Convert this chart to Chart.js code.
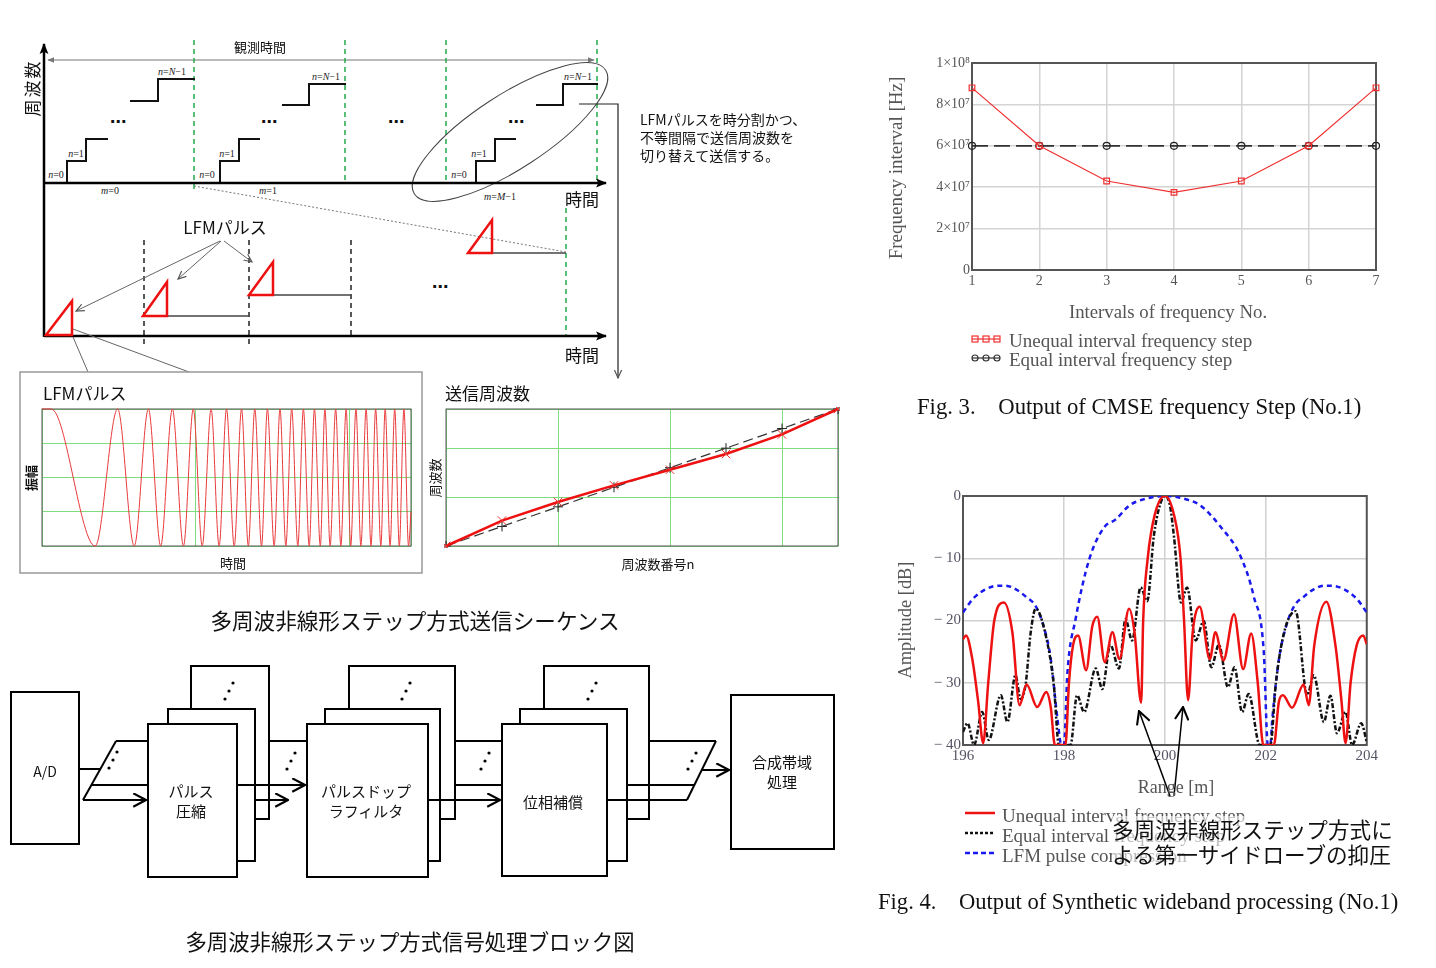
<!DOCTYPE html>
<html lang="ja">
<head>
<meta charset="utf-8">
<title>多周波非線形ステップ方式</title>
<script src="https://cdn.jsdelivr.net/npm/chart.js"></script>
<style>
  html, body { margin: 0; padding: 0; background: #fff; }
  #page { position: relative; width: 1436px; height: 968px; overflow: hidden;
          font-family: "Noto Sans CJK JP", sans-serif; color: #111; }
  .t { position: absolute; white-space: pre; line-height: 1; }
  .c { transform: translate(-50%, -50%); }
  .l { transform: translateY(-50%); }
  .v { transform: translate(-50%, -50%) rotate(-90deg); }
  .serif { font-family: "Liberation Serif", "DejaVu Serif", serif; color: #555; }
  canvas { position: absolute; }
  svg { position: absolute; left: 0; top: 0; }
</style>
</head>
<body>
<div id="page">

<!-- 図の線画（送信シーケンスとブロック図） -->
<svg width="1436" height="968" viewBox="0 0 1436 968">
  <defs>
    <marker id="axisHead" viewBox="0 0 10 10" refX="9" refY="5" markerWidth="11" markerHeight="11" orient="auto" markerUnits="userSpaceOnUse">
      <path d="M0,1 L10,5 L0,9 L2,5 z" fill="#000"/>
    </marker>
    <marker id="grayHead" viewBox="0 0 10 10" refX="9" refY="5" markerWidth="7" markerHeight="7" orient="auto-start-reverse" markerUnits="userSpaceOnUse">
      <path d="M0,1 L10,5 L0,9 z" fill="#777"/>
    </marker>
    <marker id="thinHead" viewBox="0 0 10 10" refX="9" refY="5" markerWidth="9" markerHeight="9" orient="auto" markerUnits="userSpaceOnUse">
      <path d="M0,1 L9,5 L0,9" fill="none" stroke="#555" stroke-width="1.3"/>
    </marker>
    <marker id="openHead" viewBox="0 0 10 10" refX="9.5" refY="5" markerWidth="15" markerHeight="15" orient="auto" markerUnits="userSpaceOnUse">
      <path d="M1,0.5 L9.5,5 L1,9.5" fill="none" stroke="#000" stroke-width="1.4"/>
    </marker>
  </defs>

  <!-- 観測時間 -->
  <line x1="48" y1="60" x2="594" y2="60" stroke="#777" stroke-width="1" marker-start="url(#grayHead)" marker-end="url(#grayHead)"/>

  <!-- 緑の区切り線 -->
  <g stroke="#22aa4a" stroke-width="1.5" stroke-dasharray="5,4">
    <line x1="194" y1="40" x2="194" y2="190"/>
    <line x1="345" y1="40" x2="345" y2="183"/>
    <line x1="446" y1="40" x2="446" y2="183"/>
    <line x1="597" y1="40" x2="597" y2="183"/>
    <line x1="566" y1="208" x2="566" y2="336"/>
  </g>

  <!-- 周波数ステップ -->
  <g stroke="#111" stroke-width="2" fill="none">
    <polyline points="67,183 67,161 86,161 86,139 108,139"/>
    <polyline points="130,101 158,101 158,79 195,79"/>
    <polyline points="220,183 220,161 239,161 239,139 260,139"/>
    <polyline points="282,105 309,105 309,84 346,84"/>
    <polyline points="476,183 476,161 495,161 495,139 516,139"/>
    <polyline points="536,105 563,105 563,84 598,84"/>
  </g>
  <polyline points="579,104 618,104 618,378" fill="none" stroke="#222" stroke-width="1.2" marker-end="url(#thinHead)"/>
  <ellipse cx="510" cy="132" rx="114" ry="37" transform="rotate(-33 510 132)" fill="none" stroke="#444" stroke-width="1"/>
  <line x1="194" y1="186" x2="566" y2="252" stroke="#777" stroke-width="1" stroke-dasharray="2,2"/>

  <!-- 軸 -->
  <g stroke="#000" stroke-width="2.5">
    <line x1="44" y1="337" x2="44" y2="44" marker-end="url(#axisHead)"/>
    <line x1="44" y1="183" x2="606" y2="183" marker-end="url(#axisHead)"/>
    <line x1="44" y1="336" x2="606" y2="336" marker-end="url(#axisHead)"/>
  </g>

  <g font-family="Liberation Serif, serif" font-size="10" fill="#222" text-anchor="middle" dominant-baseline="central">
    <text x="56" y="174"><tspan font-style="italic">n</tspan>=0</text>
    <text x="76" y="153"><tspan font-style="italic">n</tspan>=1</text>
    <text x="172" y="71"><tspan font-style="italic">n</tspan>=<tspan font-style="italic">N</tspan>−1</text>
    <text x="207" y="174"><tspan font-style="italic">n</tspan>=0</text>
    <text x="227" y="153"><tspan font-style="italic">n</tspan>=1</text>
    <text x="326" y="76"><tspan font-style="italic">n</tspan>=<tspan font-style="italic">N</tspan>−1</text>
    <text x="459" y="174"><tspan font-style="italic">n</tspan>=0</text>
    <text x="479" y="153"><tspan font-style="italic">n</tspan>=1</text>
    <text x="578" y="76"><tspan font-style="italic">n</tspan>=<tspan font-style="italic">N</tspan>−1</text>
    <text x="110" y="190"><tspan font-style="italic">m</tspan>=0</text>
    <text x="268" y="190"><tspan font-style="italic">m</tspan>=1</text>
    <text x="500" y="196"><tspan font-style="italic">m</tspan>=<tspan font-style="italic">M</tspan>−1</text>
  </g>
  <g font-family="DejaVu Sans, sans-serif" font-size="16" font-weight="bold" fill="#111" text-anchor="middle">
    <text x="118" y="127">⋯</text>
    <text x="269" y="127">⋯</text>
    <text x="396" y="127">⋯</text>
    <text x="516" y="127">⋯</text>
    <text x="440" y="292">⋯</text>
  </g>

  <!-- LFM パルス列 -->
  <g stroke="#222" stroke-width="1.5" stroke-dasharray="5,4">
    <line x1="144" y1="240" x2="144" y2="346"/>
    <line x1="249" y1="240" x2="249" y2="346"/>
    <line x1="351" y1="240" x2="351" y2="336"/>
  </g>
  <g stroke="#444" stroke-width="1.5">
    <line x1="167" y1="316" x2="249" y2="316"/>
    <line x1="273" y1="295" x2="351" y2="295"/>
    <line x1="492" y1="253" x2="566" y2="253"/>
  </g>
  <g stroke="#ee1111" stroke-width="2.5" fill="none" stroke-linejoin="miter">
    <polygon points="46,335 72,335 72,301"/>
    <polygon points="143,316 167,316 167,282"/>
    <polygon points="249,295 273,295 273,262"/>
    <polygon points="468,253 492,253 492,220"/>
  </g>
  <g stroke="#666" stroke-width="1" fill="none">
    <line x1="220" y1="241" x2="76" y2="311" marker-end="url(#thinHead)"/>
    <line x1="221" y1="241" x2="178" y2="279" marker-end="url(#thinHead)"/>
    <line x1="224" y1="241" x2="252" y2="262" marker-end="url(#thinHead)"/>
    <line x1="73" y1="337" x2="88" y2="372"/>
    <line x1="73" y1="329" x2="189" y2="372"/>
  </g>
  <rect x="20" y="372" width="402" height="201" fill="none" stroke="#999" stroke-width="1.5"/>

  <!-- 信号処理ブロック図 -->
  <g stroke="#000" stroke-width="2" fill="#fff">
    <rect x="11" y="692" width="68" height="152"/>
    <rect x="191" y="666" width="78" height="153"/>
    <rect x="168" y="709" width="87" height="152"/>
    <rect x="148" y="724" width="89" height="153"/>
    <rect x="349" y="666" width="106" height="153"/>
    <rect x="325" y="709" width="115" height="152"/>
    <rect x="307" y="724" width="121" height="153"/>
    <rect x="544" y="666" width="105" height="153"/>
    <rect x="520" y="709" width="107" height="152"/>
    <rect x="502" y="724" width="105" height="152"/>
    <rect x="731" y="695" width="103" height="154"/>
  </g>
  <g stroke="#000" stroke-width="2" fill="none">
    <line x1="79" y1="769" x2="101" y2="769"/>
    <line x1="116" y1="741" x2="83" y2="800"/>
    <line x1="116" y1="741" x2="148" y2="741"/>
    <line x1="92" y1="785" x2="148" y2="785"/>
    <line x1="83" y1="800" x2="146" y2="800" marker-end="url(#openHead)"/>
    <line x1="269" y1="741" x2="307" y2="741"/>
    <line x1="237" y1="785" x2="305" y2="785" marker-end="url(#openHead)"/>
    <line x1="255" y1="800" x2="288" y2="800" marker-end="url(#openHead)"/>
    <line x1="455" y1="741" x2="502" y2="741"/>
    <line x1="455" y1="785" x2="502" y2="785"/>
    <line x1="428" y1="800" x2="500" y2="800" marker-end="url(#openHead)"/>
    <line x1="649" y1="741" x2="716" y2="741"/>
    <line x1="627" y1="785" x2="694" y2="785"/>
    <line x1="607" y1="800" x2="687" y2="800"/>
    <line x1="716" y1="741" x2="687" y2="800"/>
    <line x1="702" y1="770" x2="729" y2="770" marker-end="url(#openHead)"/>
  </g>
  <g fill="#000">
    <circle cx="109" cy="768" r="1.6"/><circle cx="113" cy="760" r="1.6"/><circle cx="117" cy="752" r="1.6"/>
    <circle cx="287" cy="769" r="1.6"/><circle cx="291" cy="761" r="1.6"/><circle cx="295" cy="753" r="1.6"/>
    <circle cx="481" cy="769" r="1.6"/><circle cx="485" cy="761" r="1.6"/><circle cx="489" cy="753" r="1.6"/>
    <circle cx="688" cy="769" r="1.6"/><circle cx="692" cy="761" r="1.6"/><circle cx="696" cy="753" r="1.6"/>
    <circle cx="225" cy="699" r="1.6"/><circle cx="229" cy="691" r="1.6"/><circle cx="233" cy="683" r="1.6"/>
    <circle cx="402" cy="699" r="1.6"/><circle cx="406" cy="691" r="1.6"/><circle cx="410" cy="683" r="1.6"/>
    <circle cx="588" cy="699" r="1.6"/><circle cx="592" cy="691" r="1.6"/><circle cx="596" cy="683" r="1.6"/>
  </g>

  <!-- 凡例の記号 -->
  <g stroke="#f03030" stroke-width="1.2" fill="none">
    <line x1="972" y1="339" x2="1000" y2="339"/>
    <rect x="972" y="336" width="6" height="6"/><rect x="983" y="336" width="6" height="6"/><rect x="994" y="336" width="6" height="6"/>
  </g>
  <g stroke="#333" stroke-width="1.2" fill="none">
    <line x1="972" y1="358" x2="1000" y2="358"/>
    <circle cx="975" cy="358" r="3"/><circle cx="986" cy="358" r="3"/><circle cx="997" cy="358" r="3"/>
  </g>
  <line x1="965" y1="813" x2="995" y2="813" stroke="#ee1111" stroke-width="2.5"/>
  <line x1="965" y1="833" x2="995" y2="833" stroke="#111" stroke-width="2.5" stroke-dasharray="3,2"/>
  <line x1="965" y1="853" x2="995" y2="853" stroke="#1a1aee" stroke-width="2.5" stroke-dasharray="5,3"/>
</svg>

<!-- Chart.js のキャンバス -->
<canvas id="fig3" width="510" height="242" style="left:880px; top:50px;"></canvas>
<canvas id="fig4" width="490" height="280" style="left:890px; top:485px;"></canvas>
<canvas id="lfm" width="373" height="141" style="left:40px; top:407px;"></canvas>
<canvas id="freq" width="396" height="141" style="left:444px; top:407px;"></canvas>

<!-- Fig.4 の矢印 -->
<svg width="1436" height="968" viewBox="0 0 1436 968" style="pointer-events:none">
  <g stroke="#000" stroke-width="1.5" fill="none">
    <line x1="1170" y1="796" x2="1139" y2="711" marker-end="url(#openHead)"/>
    <line x1="1174" y1="796" x2="1183" y2="707" marker-end="url(#openHead)"/>
  </g>
</svg>

<!-- テキスト -->
<div class="t v" style="left:31px; top:88px; font-size:17px; letter-spacing:2px;">周波数</div>
<div class="t c" style="left:260px; top:46px; font-size:13px;">観測時間</div>
<div class="t c" style="left:582px; top:198px; font-size:17px;">時間</div>
<div class="t c" style="left:582px; top:354px; font-size:17px;">時間</div>
<div class="t c" style="left:225px; top:226px; font-size:17px;">LFMパルス</div>
<div class="t l" style="left:640px; top:119px; font-size:14px;">LFMパルスを時分割かつ、</div>
<div class="t l" style="left:640px; top:137px; font-size:14px;">不等間隔で送信周波数を</div>
<div class="t l" style="left:640px; top:155px; font-size:14px;">切り替えて送信する。</div>

<div class="t l" style="left:43px; top:392px; font-size:17px;">LFMパルス</div>
<div class="t v" style="left:30px; top:478px; font-size:13px; font-weight:bold;">振幅</div>
<div class="t c" style="left:233px; top:562px; font-size:13px;">時間</div>
<div class="t l" style="left:445px; top:392px; font-size:17px;">送信周波数</div>
<div class="t v" style="left:434px; top:478px; font-size:13px;">周波数</div>
<div class="t c" style="left:658px; top:563px; font-size:13px;">周波数番号n</div>
<div class="t c" style="left:415px; top:620px; font-size:21.6px;">多周波非線形ステップ方式送信シーケンス</div>

<div class="t c" style="left:45px; top:771px; font-size:14px;">A/D</div>
<div class="t c" style="left:191px; top:801px; font-size:15px; line-height:20px; text-align:center;">パルス
圧縮</div>
<div class="t c" style="left:366px; top:801px; font-size:15px; line-height:20px; text-align:center;">パルスドップ
ラフィルタ</div>
<div class="t c" style="left:553px; top:801px; font-size:15px;">位相補償</div>
<div class="t c" style="left:782px; top:772px; font-size:15px; line-height:20px; text-align:center;">合成帯域
処理</div>
<div class="t c" style="left:410px; top:941px; font-size:21.4px;">多周波非線形ステップ方式信号処理ブロック図</div>

<div class="t v serif" style="left:895px; top:168px; font-size:19px;">Frequency interval [Hz]</div>
<div class="t c serif" style="left:1168px; top:312px; font-size:18.8px;">Intervals of frequency No.</div>
<div class="t l serif" style="left:1009px; top:340px; font-size:19px;">Unequal interval frequency step</div>
<div class="t l serif" style="left:1009px; top:359px; font-size:19px;">Equal interval frequency step</div>
<div class="t l serif" style="left:917px; top:407px; font-size:22.7px; color:#111;">Fig. 3.    Output of CMSE frequency Step (No.1)</div>

<div class="t v serif" style="left:905px; top:620px; font-size:18.4px;">Amplitude [dB]</div>
<div class="t c serif" style="left:1176px; top:787px; font-size:18px;">Range [m]</div>
<div class="t l serif" style="left:1002px; top:815px; font-size:19px;">Unequal interval frequency step</div>
<div class="t l serif" style="left:1002px; top:835px; font-size:19px;">Equal interval frequency step</div>
<div class="t l serif" style="left:1002px; top:855px; font-size:19px;">LFM pulse compression</div>
<div class="t" style="left:1112px; top:816px; font-size:21.6px; line-height:25px; background:rgba(255,255,255,0.6);">多周波非線形ステップ方式に
よる第一サイドローブの抑圧</div>
<div class="t l serif" style="left:878px; top:902px; font-size:22.6px; color:#111;">Fig. 4.    Output of Synthetic wideband processing (No.1)</div>

</div>

<script>
// ---- Fig.3: 周波数間隔 ----
const intervalNo = [1, 2, 3, 4, 5, 6, 7];
const unequalInterval = [8.8e7, 6.0e7, 4.3e7, 3.75e7, 4.3e7, 6.0e7, 8.8e7];
const equalInterval = [6.0e7, 6.0e7, 6.0e7, 6.0e7, 6.0e7, 6.0e7, 6.0e7];
const fig3YLabels = ['0', '2×10⁷', '4×10⁷', '6×10⁷', '8×10⁷', '1×10⁸'];

// ---- Fig.4: 合成帯域処理の出力 ----
const unequalRange = [196.00, 196.06, 196.18, 196.30, 196.40, 196.50, 196.62, 196.81, 196.98, 197.12, 197.26, 197.47, 197.65, 197.74, 197.82,
  198.03, 198.10, 198.18, 198.28, 198.44, 198.56, 198.66, 198.81, 198.96, 199.10, 199.29, 199.40, 199.53, 199.57, 199.66, 199.80, 200.00,
  200.18, 200.31, 200.38, 200.46, 200.55, 200.69, 200.89, 201.00, 201.16, 201.37, 201.55, 201.71, 201.84, 201.95, 202.16, 202.26, 202.34,
  202.52, 202.75, 202.85, 202.96, 203.20, 203.38, 203.50, 203.58, 203.68, 203.80, 203.93, 204.00];
const unequalDb = [-23.0, -22.4, -26, -33, -39.7, -30, -20, -17.1, -22, -33.6, -30.3, -33.9, -31.5, -34, -40,
  -40, -30, -24, -22.4, -28.0, -21, -19.4, -26.7, -21.9, -26.2, -18.1, -22, -33.2, -20, -10, -3, 0,
  -3, -10, -20, -32.8, -22, -17.8, -26.2, -21.9, -26.4, -19.0, -27.8, -22.1, -30, -40, -40, -33, -32.0,
  -34.0, -30.3, -33.6, -24, -17.0, -24, -33, -39.7, -30, -24, -22.4, -23.8];

const equalRange = [196.00, 196.09, 196.22, 196.38, 196.51, 196.75, 196.88, 197.04, 197.14, 197.24, 197.34, 197.44, 197.64, 197.80, 197.90,
  198.13, 198.26, 198.40, 198.63, 198.76, 198.92, 199.09, 199.22, 199.35, 199.52, 199.65, 199.78, 199.90, 200.00,
  200.10, 200.18, 200.32, 200.44, 200.61, 200.77, 200.92, 201.07, 201.25, 201.38, 201.53, 201.66, 201.88, 202.09, 202.20, 202.36,
  202.59, 202.82, 202.95, 203.15, 203.28, 203.41, 203.58, 203.71, 203.89, 204.00];
const equalDb = [-37.9, -36.5, -40, -34.7, -39.2, -32.0, -36.3, -28.8, -32.6, -30.3, -22, -18.1, -22.4, -30.4, -40,
  -40, -32.0, -34.7, -27.7, -31.0, -23.9, -27.7, -19.8, -23.2, -14.7, -16.9, -6.5, -1.5, 0,
  -1.5, -6.5, -17.1, -14.7, -23.2, -20.1, -27.5, -23.9, -30.7, -27.5, -34.7, -31.8, -40, -40, -30, -22,
  -18.5, -32.0, -28.8, -36.3, -32.1, -38.1, -34.7, -40, -36.5, -39.5];

const lfmRange = [196.00, 196.20, 196.45, 196.70, 196.84, 197.05, 197.25, 197.44, 197.60, 197.74, 197.87, 197.95, 198.00,
  198.07, 198.23, 198.50, 198.80, 199.02, 199.30, 199.55, 200.00, 200.45, 200.70, 201.10, 201.50, 201.76, 201.96, 202.04, 202.09,
  202.13, 202.26, 202.40, 202.56, 202.75, 202.95, 203.16, 203.30, 203.55, 203.80, 204.00];
const lfmDb = [-18.7, -16.5, -15, -14.4, -14.4, -15, -16.2, -17.7, -21, -26.2, -35.7, -40, -40,
  -28.3, -19.8, -10.2, -5.0, -3.8, -1.5, -0.6, 0, -0.6, -1.5, -4.9, -9.7, -16.1, -25.1, -40, -40,
  -35.7, -26.2, -21, -17.7, -16.2, -15, -14.4, -14.4, -15, -16.5, -18.7];
const fig4YLabels = ['− 40', '− 30', '− 20', '− 10', '0'];

// ---- LFMパルス波形（山・谷の時刻を読み取り） ----
const lfmTime = [0, 3, 17.3, 24.6, 30.0, 34.6, 38.6, 42.4, 46.0, 49.2, 52.1, 55.0, 57.6, 60.0, 62.5, 64.9, 67.1, 69.2, 71.4,
  73.3, 75.5, 77.4, 79.3, 81.2, 83.2, 85.0, 86.9, 88.6, 90.5, 92.0, 93.7, 95.5, 97.2, 98.9, 100.4, 102.1, 103.7, 105.4,
  107.0, 108.5, 110.2, 111.6, 113.2, 114.7, 116.2, 117.7, 119.2, 120];
const lfmAmp = [1, 1, -1, 1, -1, 1, -1, 1, -1, 1, -1, 1, -1, 1, -1, 1, -1, 1, -1,
  1, -1, 1, -1, 1, -1, 1, -1, 1, -1, 1, -1, 1, -1, 1, -1, 1, -1, 1,
  -1, 1, -1, 1, -1, 1, -1, 1, -1, -0.5];

// ---- 送信周波数 ----
const freqNo = [0, 1, 2, 3, 4, 5, 6, 7];
const freqUnequal = [0, 0.26, 0.45, 0.62, 0.78, 0.94, 1.14, 1.4];
const freqEqual = [0, 0.2, 0.4, 0.6, 0.8, 1.0, 1.2, 1.4];

// x と y の配列から点を作る
function pts(xs, ys) {
  return xs.map((x, i) => ({ x: x, y: ys[i] }));
}

// プロット領域の枠線
const framePlugin = {
  id: 'frame',
  beforeDatasetsDraw(chart, args, opts) {
    const a = chart.chartArea;
    const ctx = chart.ctx;
    ctx.save();
    ctx.strokeStyle = opts.color || '#555';
    ctx.lineWidth = opts.width || 1;
    ctx.strokeRect(a.left, a.top, a.right - a.left, a.bottom - a.top);
    ctx.restore();
  }
};

const serif = 'Liberation Serif';
const noPlugins = { legend: { display: false }, tooltip: { enabled: false } };

// Fig.3
new Chart(document.getElementById('fig3'), {
  type: 'line',
  data: {
    datasets: [
      {
        label: 'Unequal interval frequency step',
        data: pts(intervalNo, unequalInterval),
        borderColor: '#f03030', borderWidth: 1.2,
        pointStyle: 'rect', pointRadius: 4, pointBorderWidth: 1.2,
        pointBorderColor: '#f03030', pointBackgroundColor: 'rgba(255,255,255,0)',
        clip: false
      },
      {
        label: 'Equal interval frequency step',
        data: pts(intervalNo, equalInterval),
        borderColor: '#333', borderWidth: 1.8, borderDash: [16, 6],
        pointStyle: 'circle', pointRadius: 3.5, pointBorderWidth: 1.2,
        pointBorderColor: '#222', pointBackgroundColor: 'rgba(255,255,255,0)',
        clip: false
      }
    ]
  },
  options: {
    responsive: false, animation: false,
    layout: { padding: { top: 13, right: 14, left: 0, bottom: 0 }, autoPadding: false },
    plugins: Object.assign({ frame: { color: '#555', width: 2 } }, noPlugins),
    scales: {
      x: {
        type: 'linear', min: 1, max: 7,
        ticks: { stepSize: 1, padding: 3, color: '#555', font: { family: serif, size: 14 } },
        grid: { color: '#d4d4d4', lineWidth: 1.5, drawTicks: false },
        border: { display: false },
        afterFit: s => { s.height = 22; }
      },
      y: {
        min: 0, max: 1e8,
        ticks: { stepSize: 2e7, padding: 2, color: '#555', font: { family: serif, size: 14 },
                 callback: (v, i) => fig3YLabels[i] },
        grid: { color: '#d4d4d4', lineWidth: 1.5, drawTicks: false },
        border: { display: false },
        afterFit: s => { s.width = 92; }
      }
    }
  },
  plugins: [framePlugin]
});

// Fig.4
new Chart(document.getElementById('fig4'), {
  type: 'line',
  data: {
    datasets: [
      {
        label: 'Unequal interval frequency step',
        data: pts(unequalRange, unequalDb),
        borderColor: '#ee1111', borderWidth: 2.5, pointRadius: 0,
        cubicInterpolationMode: 'monotone'
      },
      {
        label: 'Equal interval frequency step',
        data: pts(equalRange, equalDb),
        borderColor: '#111', borderWidth: 2.5, borderDash: [5, 2, 2, 2], pointRadius: 0,
        cubicInterpolationMode: 'monotone'
      },
      {
        label: 'LFM pulse compression',
        data: pts(lfmRange, lfmDb),
        borderColor: '#1a1aee', borderWidth: 2.5, borderDash: [5, 4], pointRadius: 0,
        cubicInterpolationMode: 'monotone'
      }
    ]
  },
  options: {
    responsive: false, animation: false,
    layout: { padding: { top: 10, right: 13, left: 0, bottom: 0 }, autoPadding: false },
    plugins: Object.assign({ frame: { color: '#555', width: 2 } }, noPlugins),
    scales: {
      x: {
        type: 'linear', min: 196, max: 204,
        ticks: { stepSize: 2, padding: 2, color: '#556', font: { family: serif, size: 15 } },
        grid: { color: '#d0d0d0', lineWidth: 1.5, drawTicks: false },
        border: { display: false },
        afterFit: s => { s.height = 20; }
      },
      y: {
        min: -40, max: 0,
        ticks: { stepSize: 10, padding: 2, color: '#556', font: { family: serif, size: 15 },
                 callback: (v, i) => fig4YLabels[i] },
        grid: { color: '#d0d0d0', lineWidth: 1.5, drawTicks: false },
        border: { display: false },
        afterFit: s => { s.width = 73; }
      }
    }
  },
  plugins: [framePlugin]
});

// 小さい図（目盛なし、緑の格子）
function greenScale(min, max, step, fitKey) {
  return {
    type: 'linear', min: min, max: max,
    ticks: { display: false, stepSize: step },
    grid: { color: '#7fdc7f', lineWidth: 1, drawTicks: false },
    border: { display: false },
    afterFit: s => { s[fitKey] = 0; }
  };
}

// LFMパルス
new Chart(document.getElementById('lfm'), {
  type: 'line',
  data: {
    datasets: [{
      data: pts(lfmTime, lfmAmp),
      borderColor: '#e8393a', borderWidth: 1, pointRadius: 0,
      cubicInterpolationMode: 'monotone', clip: 2
    }]
  },
  options: {
    responsive: false, animation: false,
    layout: { padding: 2, autoPadding: false },
    plugins: Object.assign({ frame: { color: '#555', width: 1 } }, noPlugins),
    scales: { x: greenScale(0, 120, 50, 'height'), y: greenScale(-1, 1, 0.5, 'width') }
  },
  plugins: [framePlugin]
});

// 送信周波数
new Chart(document.getElementById('freq'), {
  type: 'line',
  data: {
    datasets: [
      {
        data: pts(freqNo, freqUnequal),
        borderColor: '#ee1111', borderWidth: 2.5,
        pointStyle: 'crossRot', pointRadius: 6, pointBorderWidth: 1,
        pointBorderColor: '#ee3333', clip: false
      },
      {
        data: pts(freqNo, freqEqual),
        borderColor: '#333', borderWidth: 1.2, borderDash: [10, 5],
        pointStyle: 'cross', pointRadius: 5, pointBorderWidth: 1,
        pointBorderColor: '#222', clip: false
      }
    ]
  },
  options: {
    responsive: false, animation: false,
    layout: { padding: 2, autoPadding: false },
    plugins: Object.assign({ frame: { color: '#555', width: 1 } }, noPlugins),
    scales: { x: greenScale(0, 7, 2, 'height'), y: greenScale(0, 1.4, 0.5, 'width') }
  },
  plugins: [framePlugin]
});
</script>
</body>
</html>
